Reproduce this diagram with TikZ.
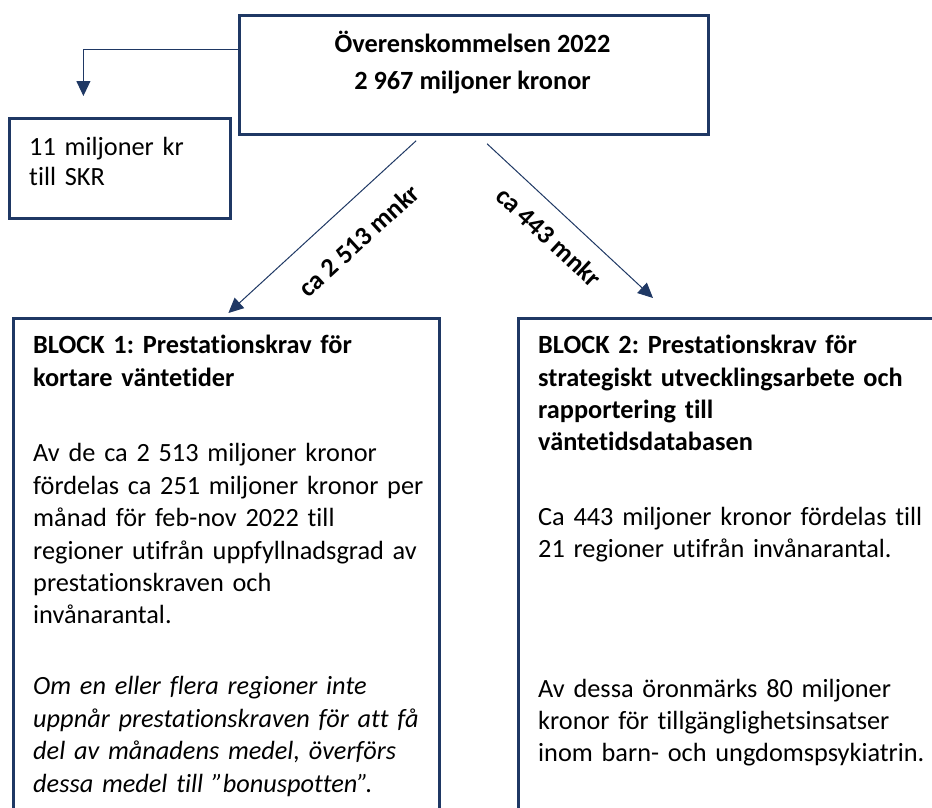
\documentclass[tikz,border=0pt]{standalone}
\usepackage{fontspec}
\setmainfont{Carlito}[Ligatures=NoCommon]
\usetikzlibrary{positioning,arrows.meta}
\definecolor{navy}{RGB}{31,56,100}
\frenchspacing

\begin{document}
\begin{tikzpicture}[x=1pt,y=-1pt,
    frame/.style={draw=navy,line width=2.8pt,rectangle,inner sep=0pt},
    txt/.style={inner sep=0pt,text width=420pt,align=left,font=\fontsize{26.3}{32.4}\selectfont},
    flow/.style={draw=navy,line width=1pt,-{Triangle[length=15pt,width=14pt]}},
    amount/.style={inner sep=0pt,sloped,font=\bfseries\fontsize{26.3}{30}\selectfont}]
    \useasboundingbox (0,0) rectangle (932,807);
    \clip (0,0) rectangle (932,807);
    % top box
        \node[frame,minimum width=469pt,minimum height=119pt,anchor=north west] (agreement) at (238,14) {};
        \node[inner sep=0pt,align=center,font=\bfseries\fontsize{26.3}{37}\selectfont,anchor=north] (agreementtxt) at (472.5,31) {Överenskommelsen 2022\\2 967 miljoner kronor};
    % SKR box
        \node[frame,minimum width=221pt,minimum height=100pt,anchor=north west] (skr) at (8,117) {};
        \node[txt,font=\fontsize{26.3}{30}\selectfont,anchor=north west] (skrtxt) at (29,137) {11 miljoner kr\\till SKR};
        \draw[flow] ([yshift=25.5pt]agreement.west) -| ([xshift=-36.5pt,yshift=21pt]skr.north);
    % block 1
        \node[frame,minimum width=426pt,minimum height=560pt,anchor=north west] (block1) at (12,317) {};
        \node[txt,anchor=north west] (block1txt) at (33,335) {\bfseries BLOCK 1: Prestationskrav för\\
            kortare väntetider\\[43.5pt]
            \mdseries Av de ca 2 513 miljoner kronor\\
            fördelas ca 251 miljoner kronor per\\
            månad för feb-nov 2022 till\\
            regioner utifrån uppfyllnadsgrad av\\
            prestationskraven och\\
            invånarantal.\\[38.5pt]
            \itshape Om en eller flera regioner inte\\
            uppnår prestationskraven för att få\\
            del av månadens medel, överförs\\
            dessa medel till ”bonuspotten”.};
    % block 2
        \node[frame,minimum width=480pt,minimum height=560pt,anchor=north west] (block2) at (517,317) {};
        \node[txt,anchor=north west] (block2txt) at (538,335) {\bfseries BLOCK 2: Prestationskrav för\\
            strategiskt utvecklingsarbete och\\
            rapportering till\\
            väntetidsdatabasen\\[42pt]
            \mdseries Ca 443 miljoner kronor fördelas till\\
            21 regioner utifrån invånarantal.\\[107pt]
            Av dessa öronmärks 80 miljoner\\
            kronor för tillgänglighetsinsatser\\
            inom barn- och ungdomspsykiatrin.};
    % money flows
        \draw[flow] ([xshift=-57.8pt,yshift=-5pt]agreement.south) -- node[amount,pos=0.43,below=25pt]{ca 2 513 mnkr} ([xshift=2pt,yshift=4pt]block1.north);
        \draw[flow] ([xshift=13.2pt,yshift=-8pt]agreement.south) -- node[amount,pos=0.48,below=16pt]{ca 443 mnkr} ([xshift=136pt,yshift=19pt]block2.north west);
\end{tikzpicture}
\end{document}
